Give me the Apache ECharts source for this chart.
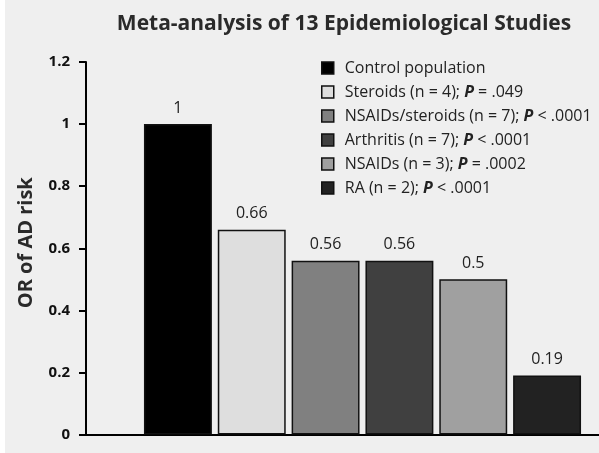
<!DOCTYPE html>
<html><head><meta charset="utf-8">
<script src="https://cdn.jsdelivr.net/npm/echarts@6/dist/echarts.min.js"></script>
<style>html,body{margin:0;padding:0;background:#fff}#c{width:599px;height:453px}</style>
</head><body><div id="c"></div>
<script>
var categories = ['Control population','Steroids','NSAIDs/steroids','Arthritis','NSAIDs','RA'];
var legendNames = ['Control population','Steroids (n = 4); {p|P} = .049','NSAIDs/steroids (n = 7); {p|P} < .0001','Arthritis (n = 7); {p|P} < .0001','NSAIDs (n = 3); {p|P} = .0002','RA (n = 2); {p|P} < .0001'];
var values = [1, 0.66, 0.56, 0.56, 0.5, 0.19];
var colors = ['#000000','#dedede','#808080','#404040','#a0a0a0','#222222'];
var yTicks = [0, 0.2, 0.4, 0.6, 0.8, 1, 1.2];

var FONT = 'Open Sans';
var series = categories.map(function(c, i){
  var d = categories.map(function(_, j){ return j === i ? values[i] : '-'; });
  return {
    name: legendNames[i], type: 'bar', stack: 'all', xAxisIndex: 1, yAxisIndex: 1,
    data: d, barCategoryGap: '8%',
    itemStyle: {color: colors[i], borderColor: '#111', borderWidth: 1.5},
    label: {show: true, position: 'top', distance: 8, color: '#222', fontFamily: FONT, fontSize: 16,
      formatter: function(p){ return String(p.value); }}
  };
});
var chart = echarts.init(document.getElementById('c'));
chart.setOption({
  backgroundColor: '#fff',
  animation: false,
  graphic: [{type: 'rect', left: 5, top: 0, shape: {width: 594, height: 453}, style: {fill: '#efefef'}, z: -10}],
  title: {text: 'Meta-analysis of 13 Epidemiological Studies', left: 339, textAlign: 'center', top: 9,
    textStyle: {fontFamily: FONT, fontWeight: 'bold', fontSize: 21, color: '#2a2a2a'}},
  legend: {orient: 'vertical', left: 321, top: 60, padding: 0, itemWidth: 12, itemHeight: 12, itemGap: 8,
    icon: 'rect', itemStyle: {borderColor: '#111', borderWidth: 1.5},
    textStyle: {fontFamily: FONT, fontSize: 16, color: '#222', padding: [0, 0, 0, 6],
      rich: {p: {fontFamily: FONT, fontSize: 16, fontWeight: 'bold', fontStyle: 'italic', color: '#222'}}},
    data: legendNames},
  grid: [
    {left: 86, right: 0, top: 62, bottom: 18.5},
    {left: 141, right: 15, top: 62, bottom: 18.5}
  ],
  xAxis: [
    {type: 'category', gridIndex: 0, data: [''], axisLine: {lineStyle: {color: '#000', width: 2}}, axisTick: {show: false}, axisLabel: {show: false}},
    {type: 'category', gridIndex: 1, data: categories, axisLine: {show: false}, axisTick: {show: false}, axisLabel: {show: false}}
  ],
  yAxis: [
    {type: 'value', gridIndex: 0, min: 0, max: 1.2, interval: 0.2, name: 'OR of AD risk', nameLocation: 'middle', nameGap: 50,
      nameTextStyle: {fontFamily: FONT, fontWeight: 'bold', fontSize: 20, color: '#2a2a2a', padding: [0, 0, 0, 11]},
      axisLine: {show: true, lineStyle: {color: '#000', width: 2}},
      axisTick: {show: true, length: 7, lineStyle: {color: '#000', width: 2}},
      splitLine: {show: false},
      axisLabel: {fontFamily: FONT, fontWeight: 'bold', fontSize: 15, color: '#111', margin: 16,
        formatter: function(v){ var t = yTicks.filter(function(x){return Math.abs(x - v) < 1e-9;}); return t.length ? String(+v.toFixed(1)) : ''; }}},
    {type: 'value', gridIndex: 1, min: 0, max: 1.2, interval: 0.2, show: false, splitLine: {show: false}}
  ],
  series: series
});
</script></body></html>
